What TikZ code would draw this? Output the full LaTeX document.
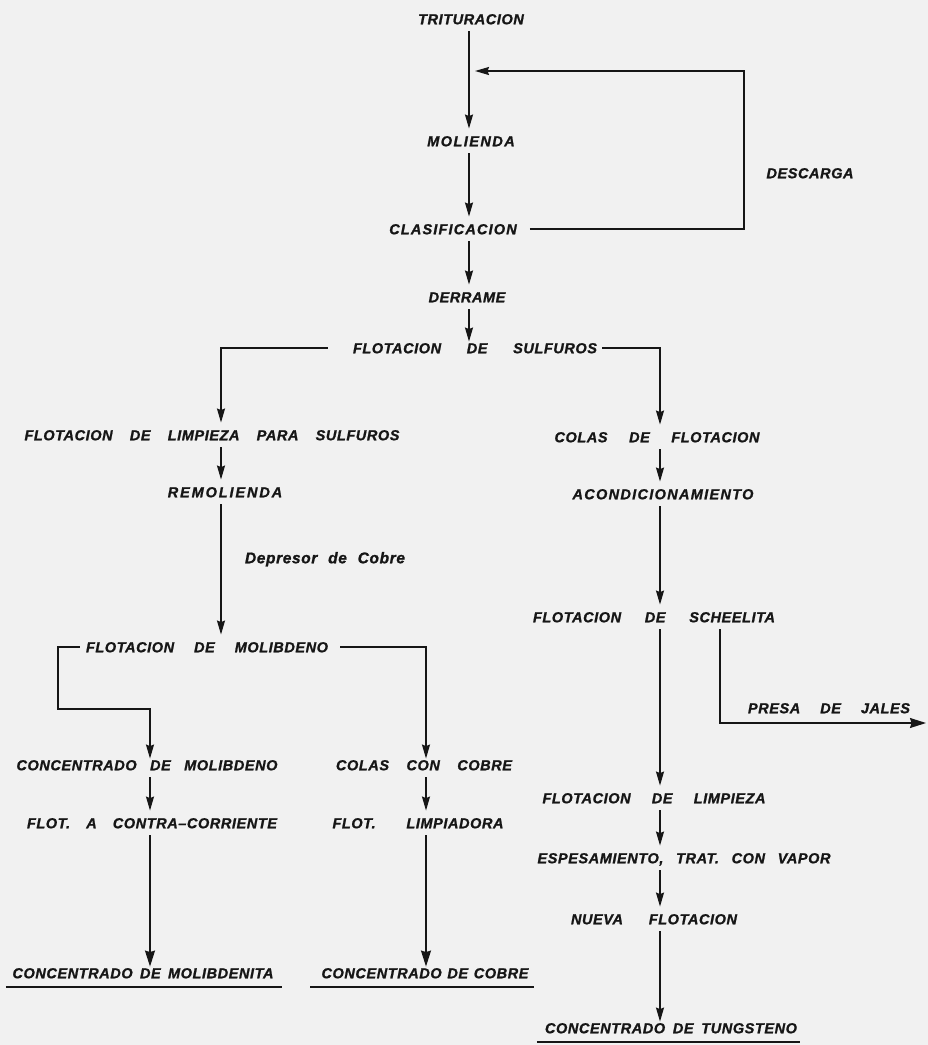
\documentclass[tikz,border=0pt]{standalone}
\usepackage{fontspec}
\setmainfont{Liberation Sans}
\newfontfamily\lblfont{Liberation Sans Bold Italic}[LetterSpace=4,FakeBold=1.2]
\usetikzlibrary{arrows.meta}
\definecolor{bg}{RGB}{241,241,241}
\definecolor{ink}{RGB}{22,22,22}
\newcommand{\wbox}[2]{\makebox[#1pt][s]{#2}}
\newcommand{\lsp}[1]{\addfontfeature{LetterSpace=#1}}
\begin{document}
\begin{tikzpicture}[x=1pt,y=-1pt,
  lbl/.style={font={\lblfont\fontsize{14.5}{17}\selectfont}, text=ink,
    inner xsep=0pt, inner ysep=7pt, text height=10.5pt, text depth=0pt, anchor=center},
  small/.style={font={\lblfont\fontsize{15.5}{17}\selectfont}},
  flow/.style={draw=ink, line width=1.4pt, -{Stealth[length=14pt,width=8pt,inset=1.5pt]}},
  bigtip/.style={-{Stealth[length=16pt,width=10pt,inset=1.5pt]}},
  touch/.style={shorten >=-6pt},
  uline/.style={draw=ink, line width=1.2pt}]
\path[use as bounding box, fill=bg] (0,0) rectangle (928,1045);

% column positions
\coordinate (cM) at (469,0);
\coordinate (cL) at (221,0);
\coordinate (cR) at (660,0);
\coordinate (cLL) at (150,0);
\coordinate (cLR) at (426,0);
\coordinate (cJ) at (720,0);

% nodes
\node[lbl] (tri) at (471,19) {TRITURACION};
\node[lbl] (mol) at (471,141) {\lsp{10}MOLIENDA};
\node[lbl] (clas) at (453,229) {\lsp{8}CLASIFICACION};
\node[lbl] (desc) at (810,173) {DESCARGA};
\node[lbl] (derr) at (467,297) {DERRAME};
\node[lbl] (sulf) at (475,348) {\wbox{244}{FLOTACION DE SULFUROS}};
\node[lbl] (lps) at (212,435) {\wbox{375}{FLOTACION DE LIMPIEZA PARA SULFUROS}};
\node[lbl] (rem) at (225,492) {\lsp{13}REMOLIENDA};
\node[lbl, small] (dep) at (325,558) {\wbox{160}{Depresor de Cobre}};
\node[lbl] (fmol) at (207,647) {\wbox{242}{FLOTACION DE MOLIBDENO}};
\node[lbl] (cmo) at (147,765) {\wbox{261}{CONCENTRADO DE MOLIBDENO}};
\node[lbl] (colc) at (424,765) {\wbox{176}{COLAS CON COBRE}};
\node[lbl] (fac) at (152,823) {\wbox{250}{FLOT. A CONTRA–CORRIENTE}};
\node[lbl] (flim) at (418,823) {\wbox{171}{FLOT. LIMPIADORA}};
\node[lbl] (cmit) at (143,973) {\wbox{261}{CONCENTRADO DE MOLIBDENITA}};
\node[lbl] (ccob) at (425,973) {\wbox{207}{CONCENTRADO DE COBRE}};
\node[lbl] (col) at (657,437) {\wbox{205}{COLAS DE FLOTACION}};
\node[lbl] (acon) at (663,494) {\lsp{9}ACONDICIONAMIENTO};
\node[lbl] (fsch) at (654,617) {\wbox{242}{FLOTACION DE SCHEELITA}};
\node[lbl] (jal) at (829,708) {\wbox{162}{PRESA DE JALES}};
\node[lbl] (flz) at (654,798) {\wbox{223}{FLOTACION DE LIMPIEZA}};
\node[lbl] (esp) at (684,858) {\wbox{293}{ESPESAMIENTO, TRAT. CON VAPOR}};
\node[lbl] (nf) at (654,919) {\wbox{166}{NUEVA FLOTACION}};
\node[lbl] (ctun) at (671,1028) {\wbox{252}{CONCENTRADO DE TUNGSTENO}};

% helper corners
\coordinate (fbR) at (744,71);
\coordinate (fbIn) at (475,71);
\coordinate (fmK) at (58,709);
\coordinate (jalEnd) at (926,723);

% main column
\draw[flow] (tri.south -| cM) -- (mol.north -| cM);
\draw[flow] (mol.south -| cM) -- (clas.north -| cM);
\draw[flow] (clas.south -| cM) -- (derr.north -| cM);
\draw[flow, touch] (derr.south -| cM) -- (sulf.north -| cM);
% recycle (descarga)
\draw[flow] ([xshift=13pt]clas.east) -| (fbR) -- (fbIn);
% sulfuros split
\draw[flow] ([xshift=-25pt]sulf.west) -| (lps.north -| cL);
\draw[flow] ([xshift=5pt]sulf.east) -| (col.north -| cR);
% left branch
\draw[flow] (lps.south -| cL) -- (rem.north -| cL);
\draw[flow] (rem.south -| cL) -- (fmol.north -| cL);
\draw[flow, touch] ([xshift=-6pt]fmol.west) -| (fmK) -| (cmo.north -| cLL);
\draw[flow, touch] ([xshift=12pt]fmol.east) -| (colc.north -| cLR);
\draw[flow] (cmo.south -| cLL) -- (fac.north -| cLL);
\draw[flow, bigtip, touch] (fac.south -| cLL) -- (cmit.north -| cLL);
\draw[flow] (colc.south -| cLR) -- (flim.north -| cLR);
\draw[flow, bigtip, touch] (flim.south -| cLR) -- (ccob.north -| cLR);
% right branch
\draw[flow] (col.south -| cR) -- (acon.north -| cR);
\draw[flow] (acon.south -| cR) -- (fsch.north -| cR);
\draw[flow] (fsch.south -| cR) -- (flz.north -| cR);
\draw[flow, bigtip] (fsch.south -| cJ) |- (jalEnd);
\draw[flow] (flz.south -| cR) -- (esp.north -| cR);
\draw[flow] (esp.south -| cR) -- (nf.north -| cR);
\draw[flow, touch] (nf.south -| cR) -- (ctun.north -| cR);

% underlines of final products
\draw[uline] ([xshift=-6.5pt,yshift=-14pt]cmit.west) -- ([xshift=8.5pt,yshift=-14pt]cmit.east);
\draw[uline] ([xshift=-11pt,yshift=-14pt]ccob.west) -- ([xshift=5pt,yshift=-14pt]ccob.east);
\draw[uline] ([xshift=-8pt,yshift=-14pt]ctun.west) -- ([xshift=3pt,yshift=-14pt]ctun.east);
\end{tikzpicture}
\end{document}
